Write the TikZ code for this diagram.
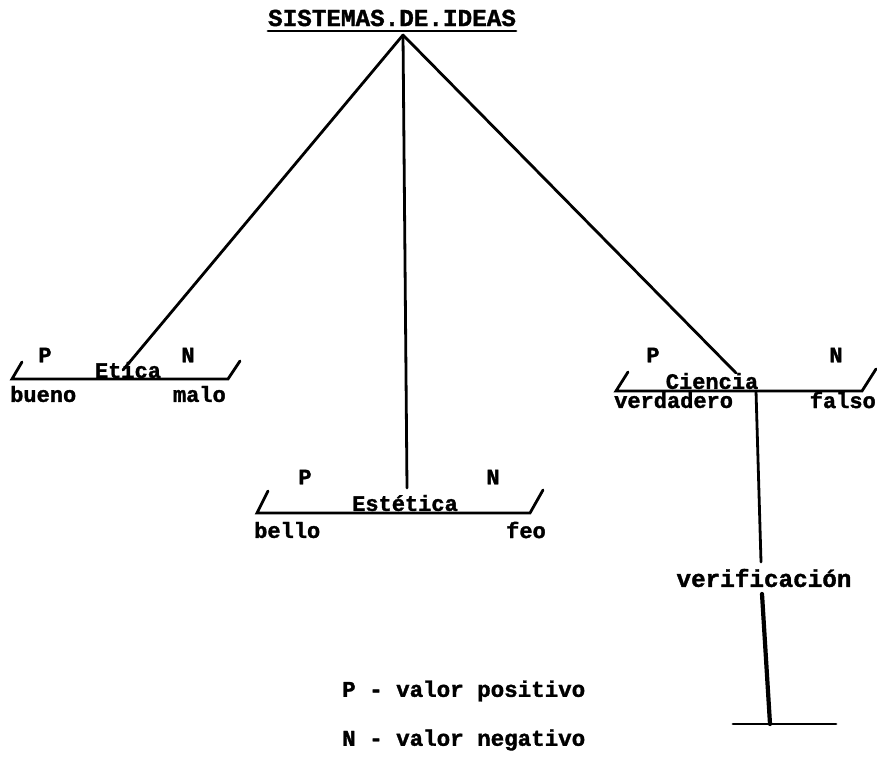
\documentclass[tikz,border=0pt]{standalone}
\usepackage{fontspec}
\newfontfamily\tw{Liberation Mono Bold}[FakeBold=1.5]
\begin{document}
\begin{tikzpicture}[x=1pt,y=-1pt,
  lbl/.style={font=\tw\fontsize{22}{24}\selectfont, inner sep=0pt},
  big/.style={font=\tw\fontsize{24.3}{26}\selectfont, inner sep=0pt},
  legend/.style={font=\tw\fontsize{22.5}{24}\selectfont, inner sep=0pt},
  ln/.style={line width=2.8pt, line cap=round},
  thick ln/.style={line width=4.2pt, line cap=round}]
\useasboundingbox (0,0) rectangle (877,779);
% title
\node[big] (title) at (392,18) {SISTEMAS.DE.IDEAS};
\coordinate (ul1) at (268,31); \coordinate (ul2) at (516,31);
\draw[ln] (ul1) -- (ul2);
\coordinate (apex) at (403,35);
% Etica
\node[lbl] (etica) at (128,370) {Etica};
\node[lbl] (eP) at (45,355) {P};
\node[lbl] (eN) at (188,355) {N};
\node[lbl,anchor=west] (ebueno) at (10,394) {bueno};
\node[lbl,anchor=east] (emalo) at (226,394) {malo};
\coordinate (eA) at (22,362); \coordinate (eB) at (12,379);
\coordinate (eC) at (228,379); \coordinate (eD) at (240,361);
\draw[ln] (eA) -- (eB) -- (eC) -- (eD);
\coordinate (eT) at (123,370);
% Estetica
\node[lbl] (estetica) at (405,503) {Estética};
\node[lbl] (sP) at (305,477) {P};
\node[lbl] (sN) at (493,477) {N};
\node[lbl,anchor=west] (sbello) at (254,530) {bello};
\node[lbl,anchor=east] (sfeo) at (546,530) {feo};
\coordinate (sA) at (268,491); \coordinate (sB) at (257,513);
\coordinate (sC) at (530,513); \coordinate (sD) at (543,490);
\draw[ln] (sA) -- (sB) -- (sC) -- (sD);
\coordinate (sT) at (407,488);
% Ciencia
\node[lbl] (ciencia) at (712,381) {Ciencia};
\node[lbl] (cP) at (653,355) {P};
\node[lbl] (cN) at (836,355) {N};
\node[lbl,anchor=west] (cverd) at (614,400) {verdadero};
\node[lbl,anchor=east] (cfalso) at (876,400) {falso};
\coordinate (cA) at (628,372); \coordinate (cB) at (616,391);
\coordinate (cC) at (862,391); \coordinate (cD) at (876,369);
\draw[ln] (cA) -- (cB) -- (cC) -- (cD);
\coordinate (cT) at (736,373);
% connectors
\draw[ln] (apex) -- (eT);
\draw[ln] (apex) -- (sT);
\draw[ln] (apex) -- (cT);
% verification
\node[big] (verif) at (764,578) {verificación};
\coordinate (v0) at (756,391);
\coordinate (v1) at (761,562);
\coordinate (v2) at (762,594);
\coordinate (v3) at (770,724);
\coordinate (bL) at (733,724); \coordinate (bR) at (836,724);
\draw[ln] (v0) -- (v1);
\draw[thick ln] (v2) -- (v3);
\draw[ln] (bL) -- (bR);
% legend
\node[legend,anchor=west] (legP) at (342,691) {P - valor positivo};
\node[legend,anchor=west] (legN) at (342,740) {N - valor negativo};
\end{tikzpicture}
\end{document}
